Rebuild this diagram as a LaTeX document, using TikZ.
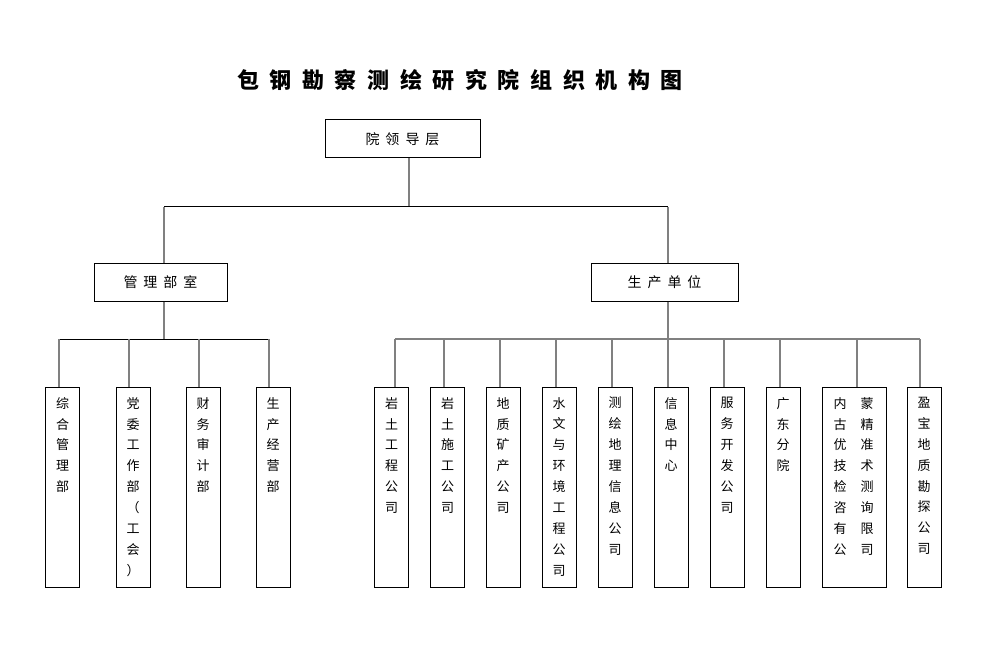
\documentclass[tikz,border=0pt]{standalone}
\usepackage{fontspec}
\setmainfont{Noto Sans CJK SC}
\newfontfamily\cjk{Noto Sans CJK SC}
\newcommand\hg[1]{\kern#1pt}
\begin{document}
\begin{tikzpicture}[x=1pt,y=-1pt,
  box/.style={draw, line width=1pt, inner sep=0pt},
  hbox/.style={box, font=\cjk\fontsize{14}{16}\selectfont},
  vbox/.style={box, minimum height=200pt},
  vtxt/.style={inner sep=0pt, anchor=north, align=center, font=\cjk\fontsize{13}{20.9}\selectfont},
  bline/.style={draw=black, line width=1pt},
  gline/.style={draw=black!50, line width=1.5pt},
  ttl/.style={inner sep=0pt, font=\cjk\bfseries\fontsize{22}{24}\selectfont}
]
\useasboundingbox (0,0) rectangle (993,655);
\fill[white] (0,0) rectangle (993,655);

% title
\node[ttl] (title) at (460,80) {包\hg{10.6}钢\hg{10.6}勘\hg{10.6}察\hg{10.6}测\hg{10.6}绘\hg{10.6}研\hg{10.6}究\hg{10.6}院\hg{10.6}组\hg{10.6}织\hg{10.6}机\hg{10.6}构\hg{10.6}图};

% top levels
\node[hbox, minimum width=155pt, minimum height=38pt] (top) at (402.5,139) {院\hg{6}领\hg{6}导\hg{6}层};
\node[hbox, minimum width=133pt, minimum height=38pt] (mgmt) at (160.5,282) {管\hg{6}理\hg{6}部\hg{6}室};
\node[hbox, minimum width=147pt, minimum height=38pt] (prod) at (664.5,282) {生\hg{6}产\hg{6}单\hg{6}位};

% left column boxes
\node[vbox, minimum width=34pt] (c1) at (62.5,487) {};
\node[vbox, minimum width=34pt] (c2) at (133,487) {};
\node[vbox, minimum width=34pt] (c3) at (203,487) {};
\node[vbox, minimum width=34pt] (c4) at (273,487) {};
\node[vtxt] (t1) at ([yshift=-10.5pt]c1.north) {综\\合\\管\\理\\部};
\node[vtxt] (t2) at ([yshift=-10.5pt]c2.north) {党\\委\\工\\作\\部\\（\\工\\会\\）};
\node[vtxt] (t3) at ([yshift=-10.5pt]c3.north) {财\\务\\审\\计\\部};
\node[vtxt] (t4) at ([yshift=-10.5pt]c4.north) {生\\产\\经\\营\\部};

% right column boxes
\node[vbox, minimum width=34pt] (d1) at (391.5,487) {};
\node[vbox, minimum width=34pt] (d2) at (447.5,487) {};
\node[vbox, minimum width=34pt] (d3) at (503,487) {};
\node[vbox, minimum width=34pt] (d4) at (559,487) {};
\node[vbox, minimum width=34pt] (d5) at (615,487) {};
\node[vbox, minimum width=34pt] (d6) at (671,487) {};
\node[vbox, minimum width=34pt] (d7) at (727,487) {};
\node[vbox, minimum width=34pt] (d8) at (783,487) {};
\node[vbox, minimum width=64pt] (d9) at (854,487) {};
\node[vbox, minimum width=34pt] (d10) at (924,487) {};
\node[vtxt] (s1) at ([yshift=-10.5pt]d1.north) {岩\\土\\工\\程\\公\\司};
\node[vtxt] (s2) at ([yshift=-10.5pt]d2.north) {岩\\土\\施\\工\\公\\司};
\node[vtxt] (s3) at ([yshift=-10.5pt]d3.north) {地\\质\\矿\\产\\公\\司};
\node[vtxt] (s4) at ([yshift=-10.5pt]d4.north) {水\\文\\与\\环\\境\\工\\程\\公\\司};
\node[vtxt] (s5) at ([yshift=-10.5pt]d5.north) {测\\绘\\地\\理\\信\\息\\公\\司};
\node[vtxt] (s6) at ([yshift=-10.5pt]d6.north) {信\\息\\中\\心};
\node[vtxt] (s7) at ([yshift=-10.5pt]d7.north) {服\\务\\开\\发\\公\\司};
\node[vtxt] (s8) at ([yshift=-10.5pt]d8.north) {广\\东\\分\\院};
\node[vtxt] (s9a) at ([xshift=-14pt,yshift=-10.5pt]d9.north) {内\\古\\优\\技\\检\\咨\\有\\公};
\node[vtxt] (s9b) at ([xshift=13pt,yshift=-10.5pt]d9.north) {蒙\\精\\准\\术\\测\\询\\限\\司};
\node[vtxt] (s10) at ([yshift=-10.5pt]d10.north) {盈\\宝\\地\\质\\勘\\探\\公\\司};

% junction coordinates
\coordinate (jt) at (409,207);
\coordinate (ja) at (164,207);
\coordinate (jb) at (668,207);
\coordinate (ka) at (164,339);
\coordinate (kb) at (668,339);
\coordinate (u1) at (59,339);
\coordinate (u2) at (129,339);
\coordinate (u3) at (199,339);
\coordinate (u4) at (269,339);
\coordinate (v1) at (395,339);
\coordinate (v2) at (444,339);
\coordinate (v3) at (500,339);
\coordinate (v4) at (556,339);
\coordinate (v5) at (612,339);
\coordinate (v6) at (668,339);
\coordinate (v7) at (724,339);
\coordinate (v8) at (780,339);
\coordinate (v9) at (857,339);
\coordinate (v10) at (920,339);

% connectors level 1
\draw[gline] (top.south -| jt) -- (jt);
\draw[bline] (ja) -- (jb);
\draw[gline] (ja) -- (mgmt.north -| ja);
\draw[gline] (jb) -- (prod.north -| jb);

% management branch
\draw[gline] (mgmt.south -| ka) -- (ka);
\draw[bline] (u1) -- (u4);
\foreach \i in {1,...,4} {\draw[gline] (u\i) -- (c\i.north -| u\i);}

% production branch
\draw[gline] (prod.south -| kb) -- (kb);
\draw[gline] (v1) -- (v10);
\foreach \i in {1,...,10} {\draw[gline] (v\i) -- (d\i.north -| v\i);}
\end{tikzpicture}
\end{document}
